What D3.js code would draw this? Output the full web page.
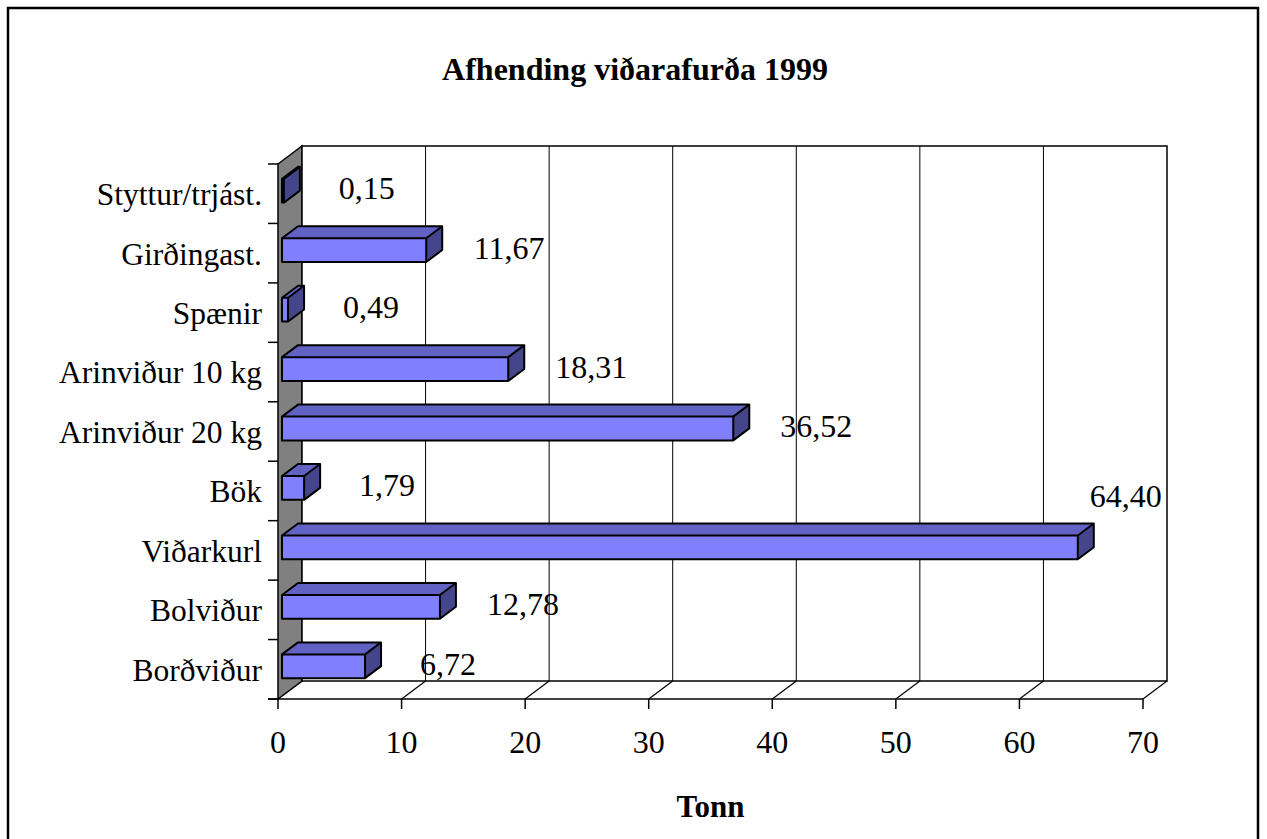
<!DOCTYPE html>
<html>
<head>
<meta charset="utf-8">
<script src="https://cdn.jsdelivr.net/npm/d3@7"></script>
<style>
  body { margin: 0; background: #fff; }
  text { font-family: "Liberation Serif", "Times New Roman", serif; fill: #000; }
</style>
</head>
<body>
<div id="graph"></div>
<script>
// bottom to top, as in the chart
var categories = ["Borðviður", "Bolviður", "Viðarkurl", "Bök", "Arinviður 20 kg",
  "Arinviður 10 kg", "Spænir", "Girðingast.", "Styttur/trjást."];
var values = [6.72, 12.78, 64.40, 1.79, 36.52, 18.31, 0.49, 11.67, 0.15];
var xTicks = [0, 10, 20, 30, 40, 50, 60, 70];
var title = "Afhending viðarafurða 1999";
var xTitle = "Tonn";

var width = 1267;
var height = 839;
var plot = {left: 278, right: 1143, top: 164, bottom: 699};
var depth = {dx: 24, dy: -18};

var svg = d3.select("#graph").append("svg")
  .attr("width", width)
  .attr("height", height);

// outer frame
svg.append("rect")
  .attr("x", 8).attr("y", 8)
  .attr("width", 1250).attr("height", 840)
  .attr("fill", "none")
  .attr("stroke", "#000")
  .attr("stroke-width", 2.5);

svg.append("text")
  .attr("x", 635)
  .attr("y", 80)
  .attr("text-anchor", "middle")
  .attr("font-size", "32px")
  .attr("font-weight", "bold")
  .text(title);

var x = d3.scaleLinear().domain([0, 70]).range([plot.left, plot.right]);
var y = d3.scaleBand().domain(categories.slice().reverse()).range([plot.top, plot.bottom]);

var g = svg.append("g");

function pts(list) {
  return list.map(function(p) { return p.join(","); }).join(" ");
}

var bx = plot.left + depth.dx, by = plot.top + depth.dy;
var bxr = plot.right + depth.dx, byb = plot.bottom + depth.dy;

// left wall
g.append("polygon")
  .attr("points", pts([[plot.left, plot.top], [bx, by], [bx, byb], [plot.left, plot.bottom]]))
  .attr("fill", "#808080")
  .attr("stroke", "#000")
  .attr("stroke-width", 1.5);

// back wall
g.append("rect")
  .attr("x", bx).attr("y", by)
  .attr("width", bxr - bx).attr("height", byb - by)
  .attr("fill", "#fff")
  .attr("stroke", "#000")
  .attr("stroke-width", 1.5);

// gridlines on back wall and floor
xTicks.forEach(function(t) {
  if (t > 0 && t < 70) {
    g.append("line")
      .attr("x1", x(t) + depth.dx).attr("x2", x(t) + depth.dx)
      .attr("y1", by).attr("y2", byb)
      .attr("stroke", "#000").attr("stroke-width", 1);
  }
  if (t > 0) {
    g.append("line")
      .attr("x1", x(t) + depth.dx).attr("y1", byb)
      .attr("x2", x(t)).attr("y2", plot.bottom)
      .attr("stroke", "#000").attr("stroke-width", 1.2);
  }
});

// front axis + ticks
g.append("line")
  .attr("x1", plot.left - 10).attr("x2", plot.right)
  .attr("y1", plot.bottom).attr("y2", plot.bottom)
  .attr("stroke", "#000").attr("stroke-width", 1.5);

g.selectAll(".xtick").data(xTicks).enter()
  .append("line")
  .attr("class", "xtick")
  .attr("x1", function(d) { return x(d); })
  .attr("x2", function(d) { return x(d); })
  .attr("y1", plot.bottom).attr("y2", plot.bottom + 10)
  .attr("stroke", "#000").attr("stroke-width", 1.5);

g.selectAll(".xlabel").data(xTicks).enter()
  .append("text")
  .attr("class", "xlabel")
  .attr("x", function(d) { return x(d); })
  .attr("y", 753)
  .attr("text-anchor", "middle")
  .attr("font-size", "32px")
  .text(function(d) { return d; });

// category axis ticks
var bounds = d3.range(categories.length + 1).map(function(i) { return plot.top + i * y.bandwidth(); });
g.selectAll(".ytick").data(bounds).enter()
  .append("line")
  .attr("class", "ytick")
  .attr("x1", plot.left - 10).attr("x2", plot.left)
  .attr("y1", function(d) { return d; })
  .attr("y2", function(d) { return d; })
  .attr("stroke", "#000").attr("stroke-width", 1.5);

g.selectAll(".ylabel").data(categories).enter()
  .append("text")
  .attr("class", "ylabel")
  .attr("x", 262)
  .attr("y", function(d) { return y(d) + y.bandwidth() / 2; })
  .attr("dy", "0.36em")
  .attr("text-anchor", "end")
  .attr("font-size", "31.5px")
  .text(function(d) { return d; });

// bars: front face sits 1/6 into the depth, bar depth 2/3
var f0 = {dx: depth.dx / 6, dy: depth.dy / 6};
var bd = {dx: depth.dx * 2 / 3, dy: depth.dy * 2 / 3};
var barH = y.bandwidth() * 0.4;

var bars = g.selectAll(".bar").data(values).enter()
  .append("g")
  .attr("class", "bar");

bars.each(function(v, i) {
  var gb = d3.select(this);
  var cy = y(categories[i]) + y.bandwidth() / 2 + f0.dy;
  var x0 = x(0) + f0.dx, x1 = x(v) + f0.dx;
  var yt = cy - barH / 2, yb = cy + barH / 2;

  gb.append("polygon")
    .attr("points", pts([[x0, yt], [x1, yt], [x1 + bd.dx, yt + bd.dy], [x0 + bd.dx, yt + bd.dy]]))
    .attr("fill", "#6262c4");
  gb.append("polygon")
    .attr("points", pts([[x1, yt], [x1 + bd.dx, yt + bd.dy], [x1 + bd.dx, yb + bd.dy], [x1, yb]]))
    .attr("fill", "#45458c");
  gb.append("rect")
    .attr("x", x0).attr("y", yt)
    .attr("width", x1 - x0).attr("height", barH)
    .attr("fill", "#8080ff");
  // outline
  gb.append("path")
    .attr("d", "M" + x0 + "," + yt + "L" + (x0 + bd.dx) + "," + (yt + bd.dy) +
      "L" + (x1 + bd.dx) + "," + (yt + bd.dy) + "L" + (x1 + bd.dx) + "," + (yb + bd.dy) +
      "L" + x1 + "," + yb + "L" + x0 + "," + yb + "Z" +
      "M" + x0 + "," + yt + "L" + x1 + "," + yt + "L" + x1 + "," + yb +
      "M" + x1 + "," + yt + "L" + (x1 + bd.dx) + "," + (yt + bd.dy))
    .attr("fill", "none")
    .attr("stroke", "#000")
    .attr("stroke-width", 2)
    .attr("stroke-linejoin", "round");

  // data label
  var back = x1 + bd.dx;
  var lx = back + 67, ly = cy - 3;
  if (lx + 40 > bxr) {
    lx = back + 32;
    ly = cy - 52;
  }
  gb.append("text")
    .attr("x", lx)
    .attr("y", ly)
    .attr("dy", "0.36em")
    .attr("text-anchor", "middle")
    .attr("font-size", "32px")
    .text(d3.format(".2f")(v).replace(".", ","));
});

svg.append("text")
  .attr("x", (plot.left + plot.right) / 2)
  .attr("y", 817)
  .attr("text-anchor", "middle")
  .attr("font-size", "31px")
  .attr("font-weight", "bold")
  .text(xTitle);
</script>
</body>
</html>
